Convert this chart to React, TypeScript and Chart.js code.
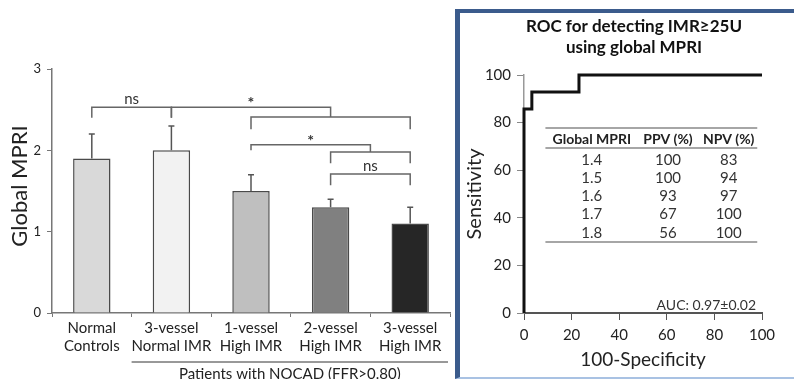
import React, { useEffect, useRef } from "react";
import { Chart, registerables } from "chart.js";

Chart.register(...registerables);

const FONT = "Lato, 'Open Sans', sans-serif";

// ---------- Left panel: Global MPRI bar chart ----------
const groupLabels = [
  ["Normal", "Controls"],
  ["3-vessel", "Normal IMR"],
  ["1-vessel", "High IMR"],
  ["2-vessel", "High IMR"],
  ["3-vessel", "High IMR"],
];
const mpriMeans = [1.9, 2.0, 1.5, 1.3, 1.1];
const mpriErrors = [0.3, 0.3, 0.2, 0.1, 0.2];
const barColors = ["#d9d9d9", "#f2f2f2", "#bfbfbf", "#808080", "#262626"];
const mpriTicks = [0, 1, 2, 3];
const mpriTitle = "Global MPRI";
const groupNote = "Patients with NOCAD (FFR>0.80)";

// significance brackets (category index from/to, level, leg ends, label)
const bracketFrom = [0, 1, 2, 2, 3, 3];
const bracketTo = [1, 3, 4, 3.5, 4, 4];
const bracketLevel = [2.53, 2.53, 2.41, 2.07, 1.98, 1.71];
const bracketLeftEnd = [2.4, 2.4, 2.26, 2.0, 1.84, 1.57];
const bracketRightEnd = [2.4, 2.41, 2.26, 1.98, 1.84, 1.57];
const bracketLabels = ["ns", "*", "", "*", "", "ns"];

// ---------- Right panel: ROC curve ----------
const rocTitle = ["ROC for detecting IMR\u226525U", "using global MPRI"];
const rocFpr = [0, 0, 3.3, 3.3, 23.1, 23.1, 100];
const rocTpr = [0, 85.7, 85.7, 92.9, 92.9, 100, 100];
const rocTicks = [0, 20, 40, 60, 80, 100];
const rocXTitle = "100-Specificity";
const rocYTitle = "Sensitivity";
const tableHeader = ["Global MPRI", "PPV (%)", "NPV (%)"];
const cutoffs = ["1.4", "1.5", "1.6", "1.7", "1.8"];
const ppvValues = [100, 100, 93, 67, 56];
const npvValues = [83, 94, 97, 100, 100];
const aucText = "AUC: 0.97\u00b10.02";

const leftOverlay = {
  id: "leftOverlay",
  afterDraw(chart: any) {
    const ctx = chart.ctx;
    const xs = chart.scales.x;
    const ys = chart.scales.y;
    const area = chart.chartArea;
    ctx.save();
    // error bars
    ctx.strokeStyle = "#555";
    ctx.lineWidth = 1.5;
    mpriMeans.forEach((m, i) => {
      const x = xs.getPixelForValue(i);
      const y0 = ys.getPixelForValue(m);
      const y1 = ys.getPixelForValue(m + mpriErrors[i]);
      ctx.beginPath();
      ctx.moveTo(x, y0);
      ctx.lineTo(x, y1);
      ctx.moveTo(x - 3, y1);
      ctx.lineTo(x + 3, y1);
      ctx.stroke();
    });
    // brackets
    const px = (v: number) => {
      const lo = Math.floor(v);
      const f = v - lo;
      if (f === 0) return xs.getPixelForValue(lo);
      return xs.getPixelForValue(lo) * (1 - f) + xs.getPixelForValue(lo + 1) * f;
    };
    ctx.strokeStyle = "#666";
    ctx.lineWidth = 1.5;
    ctx.fillStyle = "#333";
    ctx.textAlign = "center";
    bracketFrom.forEach((from, i) => {
      const x0 = px(from);
      const x1 = px(bracketTo[i]);
      const y = ys.getPixelForValue(bracketLevel[i]);
      ctx.beginPath();
      ctx.moveTo(x0, ys.getPixelForValue(bracketLeftEnd[i]));
      ctx.lineTo(x0, y);
      ctx.lineTo(x1, y);
      ctx.lineTo(x1, ys.getPixelForValue(bracketRightEnd[i]));
      ctx.stroke();
      const lab = bracketLabels[i];
      if (lab) {
        ctx.textBaseline = "alphabetic";
        if (lab === "*") {
          ctx.font = `bold 16px ${FONT}`;
          ctx.fillText(lab, (x0 + x1) / 2, y + 1);
        } else {
          ctx.font = `15px ${FONT}`;
          ctx.fillText(lab, (x0 + x1) / 2, y - 3);
        }
      }
    });
    // group underline + note
    const catW = (area.right - area.left) / mpriMeans.length;
    const gx0 = xs.getPixelForValue(1) - catW / 2;
    const gx1 = area.right - 2;
    ctx.strokeStyle = "#333";
    ctx.lineWidth = 1;
    ctx.beginPath();
    ctx.moveTo(gx0, 362);
    ctx.lineTo(gx1, 362);
    ctx.stroke();
    ctx.fillStyle = "#222";
    ctx.font = `15px ${FONT}`;
    ctx.textBaseline = "middle";
    ctx.fillText(groupNote, (gx0 + gx1) / 2, 374);
    // y title
    ctx.translate(20, (area.top + area.bottom) / 2 - 5);
    ctx.rotate(-Math.PI / 2);
    ctx.font = `22px ${FONT}`;
    ctx.fillStyle = "#222";
    ctx.fillText(mpriTitle, 0, 0);
    ctx.restore();
  },
};

const rightOverlay = {
  id: "rightOverlay",
  afterDraw(chart: any) {
    const ctx = chart.ctx;
    const xs = chart.scales.x;
    const area = chart.chartArea;
    ctx.save();
    ctx.fillStyle = "#111";
    ctx.textAlign = "center";
    ctx.textBaseline = "middle";
    ctx.font = `bold 17px ${FONT}`;
    rocTitle.forEach((t, i) => ctx.fillText(t, 174, 13 + i * 21));
    // axis titles
    ctx.fillStyle = "#222";
    ctx.font = `19px ${FONT}`;
    ctx.fillText(rocXTitle, (area.left + area.right) / 2, 346);
    ctx.save();
    ctx.translate(15, (area.top + area.bottom) / 2);
    ctx.rotate(-Math.PI / 2);
    ctx.font = `20px ${FONT}`;
    ctx.fillText(rocYTitle, 0, 0);
    ctx.restore();
    // table
    const tx0 = xs.getPixelForValue(9);
    const tx1 = xs.getPixelForValue(98);
    const cols = [xs.getPixelForValue(28.5), xs.getPixelForValue(60.5), xs.getPixelForValue(86)];
    const top = area.top;
    ctx.strokeStyle = "#888";
    ctx.lineWidth = 1.5;
    [53, 73, 167].forEach((dy) => {
      ctx.beginPath();
      ctx.moveTo(tx0, top + dy);
      ctx.lineTo(tx1, top + dy);
      ctx.stroke();
    });
    ctx.fillStyle = "#222";
    ctx.font = `bold 14px ${FONT}`;
    tableHeader.forEach((h, i) => ctx.fillText(h, cols[i], top + 64));
    ctx.font = `15px ${FONT}`;
    ctx.fillStyle = "#333";
    cutoffs.forEach((c, r) => {
      const y = top + 85 + r * 18.2;
      ctx.fillText(c, cols[0], y);
      ctx.fillText(String(ppvValues[r]), cols[1], y);
      ctx.fillText(String(npvValues[r]), cols[2], y);
    });
    // AUC
    ctx.textAlign = "right";
    ctx.font = `14px ${FONT}`;
    ctx.fillText(aucText, xs.getPixelForValue(97.5), area.bottom - 8);
    ctx.restore();
  },
};

export default function App() {
  const leftRef = useRef<HTMLCanvasElement>(null);
  const rightRef = useRef<HTMLCanvasElement>(null);

  useEffect(() => {
    const left = new Chart(leftRef.current!, {
      type: "bar",
      data: {
        labels: groupLabels as any,
        datasets: [
          {
            data: mpriMeans,
            backgroundColor: barColors,
            borderColor: "#4a4a4a",
            borderWidth: 1.5,
            categoryPercentage: 1,
            barPercentage: 0.47,
          },
        ],
      },
      options: {
        responsive: false,
        animation: false,
        devicePixelRatio: 1,
        layout: { padding: { top: 69, right: 5, left: 0, bottom: 0 } },
        plugins: {
          legend: { display: false },
          tooltip: { enabled: false },
          title: { display: false },
        },
        scales: {
          x: {
            grid: {
              display: true,
              drawOnChartArea: false,
              drawTicks: true,
              tickLength: 4,
              color: "#777",
              offset: true,
            },
            border: { color: "#777", width: 1.5 },
            ticks: {
              color: "#222",
              font: { family: FONT, size: 15 },
              padding: 2,
              maxRotation: 0,
              autoSkip: false,
            },
            afterFit: (s: any) => {
              s.height = 66;
            },
          },
          y: {
            min: mpriTicks[0],
            max: mpriTicks[mpriTicks.length - 1],
            ticks: {
              stepSize: 1,
              color: "#222",
              font: { family: FONT, size: 13 },
              padding: 6,
            },
            grid: { drawOnChartArea: false, tickLength: 5, color: "#777" },
            border: { color: "#777", width: 1.5 },
            afterFit: (s: any) => {
              s.width = 52;
            },
          },
        },
      } as any,
      plugins: [leftOverlay],
    });

    const right = new Chart(rightRef.current!, {
      type: "line",
      data: {
        datasets: [
          {
            data: rocFpr.map((x, i) => ({ x, y: rocTpr[i] })),
            borderColor: "#111",
            borderWidth: 3,
            pointRadius: 0,
            fill: false,
            tension: 0,
            clip: false,
          } as any,
        ],
      },
      options: {
        responsive: false,
        animation: false,
        devicePixelRatio: 1,
        layout: { padding: { top: 61, right: 32, left: 0, bottom: 0 } },
        plugins: {
          legend: { display: false },
          tooltip: { enabled: false },
          title: { display: false },
        },
        scales: {
          x: {
            type: "linear",
            min: rocTicks[0],
            max: rocTicks[rocTicks.length - 1],
            ticks: {
              stepSize: 20,
              color: "#222",
              font: { family: FONT, size: 15 },
              padding: 6,
            },
            grid: { drawOnChartArea: false, tickLength: 7, color: "#555" },
            border: { color: "#555", width: 2 },
            afterFit: (s: any) => {
              s.height = 64;
            },
          },
          y: {
            type: "linear",
            min: rocTicks[0],
            max: rocTicks[rocTicks.length - 1],
            ticks: {
              stepSize: 20,
              color: "#222",
              font: { family: FONT, size: 15 },
              padding: 6,
            },
            grid: { drawOnChartArea: false, tickLength: 7, color: "#888" },
            border: { color: "#999", width: 1.5 },
            afterFit: (s: any) => {
              s.width = 64;
            },
          },
        },
      } as any,
      plugins: [rightOverlay],
    });

    return () => {
      left.destroy();
      right.destroy();
    };
  }, []);

  return (
    <div
      style={{
        position: "fixed",
        left: 0,
        top: 0,
        width: 794,
        height: 379,
        background: "#fff",
        overflow: "hidden",
      }}
    >
      <canvas
        ref={leftRef}
        width={455}
        height={379}
        style={{ position: "absolute", left: 0, top: 0, width: 455, height: 379 }}
      />
      <div
        style={{
          position: "absolute",
          left: 455,
          top: 9,
          width: 345,
          height: 370,
          boxSizing: "border-box",
          borderTop: "4px solid #3b5b8c",
          borderLeft: "5px solid #3b5b8c",
          borderBottom: "2px solid #a9c2e3",
        }}
      />
      <canvas
        ref={rightRef}
        width={334}
        height={363}
        style={{ position: "absolute", left: 460, top: 14, width: 334, height: 363 }}
      />
    </div>
  );
}
